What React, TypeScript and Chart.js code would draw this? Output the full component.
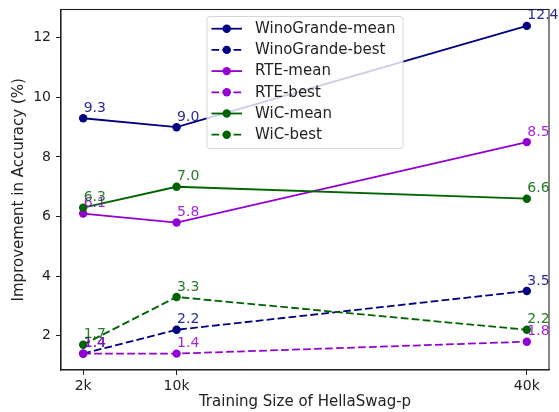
import React, { useEffect, useRef } from "react";
import { Chart, registerables } from "chart.js";

Chart.register(...registerables);

// ---- data ----
const trainingSizes = [2000, 10000, 40000];
const xTickValues = [2000, 10000, 40000];
const yTickValues = [2, 4, 6, 8, 10, 12];
const seriesLabels = [
  "WinoGrande-mean",
  "WinoGrande-best",
  "RTE-mean",
  "RTE-best",
  "WiC-mean",
  "WiC-best",
];
const winoMean = [9.3, 9.0, 12.4];
const winoBest = [1.4, 2.2, 3.5];
const rteMean = [6.1, 5.8, 8.5];
const rteBest = [1.4, 1.4, 1.8];
const wicMean = [6.3, 7.0, 6.6];
const wicBest = [1.7, 3.3, 2.2];
const xTitle = "Training Size of HellaSwag-p";
const yTitle = "Improvement in Accuracy (%)";

// ---- styles ----
const NAVY = "#000080";
const VIOLET = "#9400D3";
const GREEN = "#006400";
const FONT = '"DejaVu Sans", sans-serif';
const FS = 14;
const FS_LEG = 15;
const FS_TITLE = 15;
const TEXT = "#222222";
const DASH = [7.7, 3.3];
const LW = 1.8;
const PR = 4.2;

function rgba(hex: string, a: number) {
  const n = parseInt(hex.slice(1), 16);
  return `rgba(${(n >> 16) & 255},${(n >> 8) & 255},${n & 255},${a})`;
}

const seriesValues = [winoMean, winoBest, rteMean, rteBest, wicMean, wicBest];
const seriesColors = [NAVY, NAVY, VIOLET, VIOLET, GREEN, GREEN];
const seriesDashed = [false, true, false, true, false, true];

const framePlugin = {
  id: "frame",
  afterDatasetsDraw(chart: any) {
    const { ctx, chartArea: a } = chart;
    ctx.save();
    ctx.strokeStyle = TEXT;
    ctx.lineWidth = 1.1;
    ctx.strokeRect(a.left, a.top, a.right - a.left, a.bottom - a.top);
    ctx.restore();
  },
};

const annotatePlugin = {
  id: "annotate",
  afterDatasetsDraw(chart: any) {
    const { ctx } = chart;
    ctx.save();
    ctx.font = `${FS}px ${FONT}`;
    ctx.textAlign = "left";
    ctx.textBaseline = "alphabetic";
    chart.data.datasets.forEach((ds: any, i: number) => {
      const meta = chart.getDatasetMeta(i);
      meta.data.forEach((pt: any, j: number) => {
        const v = ds.data[j].y;
        ctx.fillStyle = rgba(seriesColors[i], 0.85);
        ctx.fillText(v.toFixed(1), pt.x + 0.5, pt.y - 6.5);
      });
    });
    ctx.restore();
  },
};

const legendPlugin = {
  id: "mplLegend",
  afterDatasetsDraw(chart: any) {
    const { ctx, chartArea: a } = chart;
    const dss = chart.data.datasets;
    ctx.save();
    ctx.font = `${FS_LEG}px ${FONT}`;
    const maxW = Math.max(...dss.map((d: any) => ctx.measureText(d.label).width));
    const w = 48 + maxW + 7.5;
    const rowH = 21.2;
    const h = 132;
    const left = (a.left + a.right) / 2 - w / 2;
    const top = a.top + 7;
    ctx.beginPath();
    (ctx as any).roundRect(left, top, w, h, 3);
    ctx.fillStyle = "rgba(255,255,255,0.8)";
    ctx.fill();
    ctx.strokeStyle = "rgba(204,204,204,0.8)";
    ctx.lineWidth = 1;
    ctx.stroke();
    dss.forEach((d: any, i: number) => {
      const cy = top + 12.2 + i * rowH;
      const x0 = left + 4.5;
      const x1 = left + 35;
      ctx.beginPath();
      ctx.setLineDash(seriesDashed[i] ? DASH : []);
      ctx.strokeStyle = seriesColors[i];
      ctx.lineWidth = LW;
      ctx.moveTo(x0, cy);
      ctx.lineTo(x1, cy);
      ctx.stroke();
      ctx.setLineDash([]);
      ctx.beginPath();
      ctx.fillStyle = seriesColors[i];
      ctx.arc((x0 + x1) / 2, cy, PR, 0, Math.PI * 2);
      ctx.fill();
      ctx.fillStyle = TEXT;
      ctx.textAlign = "left";
      ctx.textBaseline = "middle";
      ctx.fillText(d.label, left + 48, cy + 0.5);
    });
    ctx.restore();
  },
};

export default function App() {
  const ref = useRef<HTMLCanvasElement | null>(null);

  useEffect(() => {
    if (!ref.current) return;
    Chart.defaults.font.family = FONT;
    const datasets = seriesLabels.map((label, i) => ({
      label,
      data: trainingSizes.map((x, j) => ({ x, y: seriesValues[i][j] })),
      borderColor: seriesColors[i],
      backgroundColor: seriesColors[i],
      borderWidth: LW,
      borderDash: seriesDashed[i] ? DASH : [],
      pointRadius: PR,
      pointBorderWidth: 0,
      pointHoverRadius: PR,
      pointBackgroundColor: seriesColors[i],
      tension: 0,
      fill: false,
      order: seriesLabels.length - i,
    }));

    const chart = new Chart(ref.current, {
      type: "line",
      data: { datasets },
      plugins: [framePlugin, annotatePlugin, legendPlugin],
      options: {
        animation: false,
        responsive: false,
        devicePixelRatio: 1,
        layout: { padding: { left: 0, top: 9.5, right: 10, bottom: 0 } },
        plugins: {
          legend: { display: false },
          tooltip: { enabled: false },
        },
        scales: {
          x: {
            type: "linear",
            min: 100,
            max: 41900,
            afterBuildTicks: (s: any) => {
              s.ticks = xTickValues.map((v) => ({ value: v }));
            },
            afterFit: (s: any) => {
              s.height = 42;
              s.paddingLeft = 0;
              s.paddingRight = 0;
            },
            ticks: {
              color: TEXT,
              font: { size: FS, family: FONT },
              padding: 3,
              maxRotation: 0,
              autoSkip: false,
              callback: (v: any) => `${Number(v) / 1000}k`,
            },
            grid: {
              display: true,
              drawOnChartArea: false,
              drawTicks: true,
              tickLength: 5,
              tickColor: TEXT,
              tickWidth: 1,
            },
            border: { display: true, color: TEXT, width: 1.1 },
            title: {
              display: true,
              text: xTitle,
              color: TEXT,
              font: { size: FS_TITLE, family: FONT },
              padding: { top: 0, bottom: 1 },
            },
          },
          y: {
            type: "linear",
            min: 0.85,
            max: 12.95,
            afterBuildTicks: (s: any) => {
              s.ticks = yTickValues.map((v) => ({ value: v }));
            },
            afterFit: (s: any) => {
              s.width = 61;
              s.paddingTop = 0;
              s.paddingBottom = 0;
            },
            ticks: {
              color: TEXT,
              font: { size: FS, family: FONT },
              padding: 5,
              autoSkip: false,
              callback: (v: any) => `${v}`,
            },
            grid: {
              display: true,
              drawOnChartArea: false,
              drawTicks: true,
              tickLength: 5,
              tickColor: TEXT,
              tickWidth: 1,
            },
            border: { display: true, color: TEXT, width: 1.1 },
            title: {
              display: true,
              text: yTitle,
              color: TEXT,
              font: { size: FS_TITLE, family: FONT },
              padding: { top: 10.5, bottom: 0 },
            },
          },
        },
      } as any,
    });
    return () => chart.destroy();
  }, []);

  return (
    <div style={{ position: "absolute", left: 0, top: 0, width: 559, height: 412, background: "#fff" }}>
      <canvas ref={ref} width={559} height={412} style={{ display: "block", width: 559, height: 412 }} />
    </div>
  );
}
